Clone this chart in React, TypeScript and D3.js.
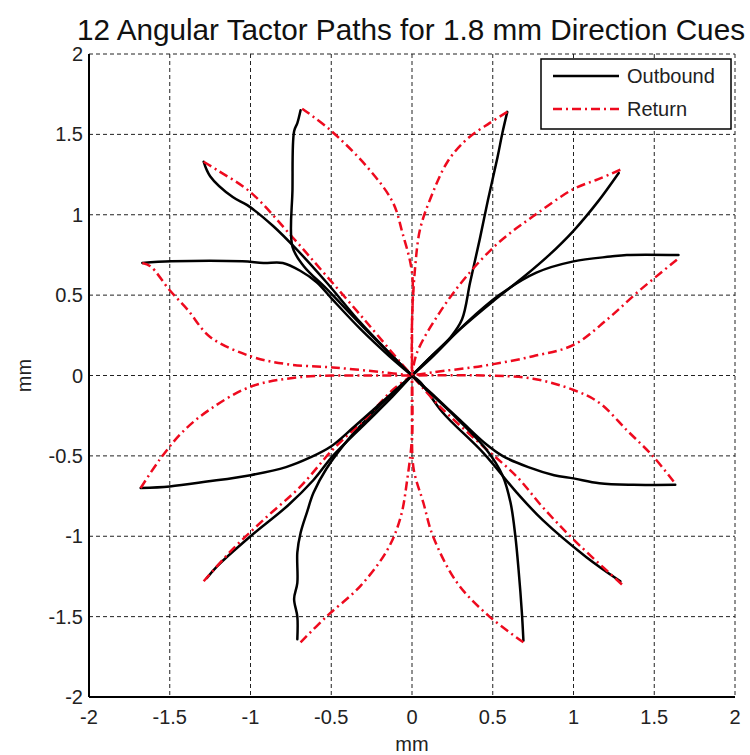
import React from "react";
import * as d3 from "d3";

type Pt = [number, number];

const title = "12 Angular Tactor Paths for 1.8 mm Direction Cues";
const xTicks = [-2, -1.5, -1, -0.5, 0, 0.5, 1, 1.5, 2];
const yTicks = [-2, -1.5, -1, -0.5, 0, 0.5, 1, 1.5, 2];
const seriesNames = ["Outbound", "Return"];

// outbound paths: origin -> end point (mm)
const outboundPaths: Pt[][] = [
  [[0, 0], [0.1, 0.1], [0.24, 0.24], [0.31, 0.35], [0.36, 0.58], [0.42, 0.85], [0.47, 1.09], [0.53, 1.36], [0.56, 1.51], [0.59, 1.64]],
  [[0, 0], [0.12, 0.12], [0.3, 0.29], [0.5, 0.46], [0.7, 0.62], [0.85, 0.75], [1.0, 0.9], [1.15, 1.08], [1.28, 1.26]],
  [[0, 0], [0.12, 0.11], [0.34, 0.33], [0.54, 0.5], [0.77, 0.64], [1.0, 0.71], [1.23, 0.74], [1.33, 0.75], [1.65, 0.75]],
  [[0, 0], [0.13, -0.12], [0.3, -0.28], [0.45, -0.42], [0.56, -0.5], [0.72, -0.57], [0.88, -0.62], [1.0, -0.64], [1.16, -0.67], [1.37, -0.68], [1.63, -0.68]],
  [[0, 0], [0.05, -0.04], [0.19, -0.23], [0.44, -0.48], [0.65, -0.73], [0.81, -0.9], [1.08, -1.13], [1.29, -1.28]],
  [[0, 0], [0.05, -0.05], [0.24, -0.23], [0.46, -0.46], [0.56, -0.62], [0.61, -0.79], [0.64, -1.0], [0.66, -1.21], [0.68, -1.47], [0.69, -1.65]],
  [[0, 0], [-0.18, -0.17], [-0.38, -0.38], [-0.53, -0.58], [-0.61, -0.73], [-0.65, -0.85], [-0.69, -0.98], [-0.71, -1.1], [-0.71, -1.29], [-0.73, -1.39], [-0.71, -1.5], [-0.71, -1.64]],
  [[0, 0], [-0.12, -0.13], [-0.28, -0.29], [-0.49, -0.5], [-0.61, -0.65], [-0.77, -0.81], [-1.0, -1.0], [-1.21, -1.19], [-1.27, -1.26]],
  [[0, 0], [-0.18, -0.16], [-0.36, -0.32], [-0.5, -0.44], [-0.63, -0.51], [-0.78, -0.57], [-1.0, -0.62], [-1.27, -0.66], [-1.5, -0.69], [-1.68, -0.7]],
  [[0, 0], [-0.14, 0.12], [-0.32, 0.29], [-0.49, 0.47], [-0.59, 0.58], [-0.69, 0.65], [-0.8, 0.7], [-0.92, 0.7], [-1.05, 0.71], [-1.49, 0.71], [-1.67, 0.7]],
  [[0, 0], [-0.12, 0.12], [-0.32, 0.33], [-0.53, 0.58], [-0.71, 0.78], [-0.86, 0.93], [-1.02, 1.06], [-1.11, 1.11], [-1.25, 1.24], [-1.29, 1.33]],
  [[0, 0], [-0.3, 0.3], [-0.53, 0.54], [-0.67, 0.68], [-0.74, 0.8], [-0.74, 1.16], [-0.73, 1.52], [-0.71, 1.57], [-0.69, 1.65]],
];

// return paths: end point -> origin
const returnPaths: Pt[][] = [
  [[0.59, 1.64], [0.48, 1.57], [0.34, 1.47], [0.22, 1.33], [0.11, 1.09], [0.05, 0.91], [0.02, 0.68], [0, 0.33], [0, 0]],
  [[1.29, 1.28], [1.15, 1.22], [1.0, 1.16], [0.75, 0.99], [0.54, 0.83], [0.34, 0.62], [0.17, 0.39], [0.03, 0.14], [0, 0]],
  [[1.64, 0.72], [1.41, 0.53], [1.21, 0.35], [1.0, 0.19], [0.75, 0.12], [0.44, 0.06], [0.13, 0.02], [0, 0]],
  [[1.62, -0.66], [1.49, -0.5], [1.33, -0.34], [1.16, -0.17], [1.0, -0.09], [0.75, -0.02], [0.44, 0.0], [0, 0]],
  [[1.3, -1.3], [1.0, -1.02], [0.81, -0.82], [0.65, -0.63], [0.44, -0.44], [0.17, -0.19], [0, 0]],
  [[0.69, -1.66], [0.48, -1.5], [0.28, -1.29], [0.13, -1.0], [0.07, -0.79], [0.01, -0.58], [0, -0.3], [0, 0]],
  [[-0.69, -1.66], [-0.53, -1.5], [-0.32, -1.31], [-0.15, -1.08], [-0.07, -0.88], [-0.03, -0.65], [0, -0.38], [0, 0]],
  [[-1.29, -1.28], [-1.11, -1.08], [-0.9, -0.88], [-0.69, -0.69], [-0.49, -0.46], [-0.28, -0.26], [-0.12, -0.09], [0, 0]],
  [[-1.68, -0.7], [-1.56, -0.52], [-1.42, -0.35], [-1.25, -0.21], [-1.0, -0.07], [-0.69, -0.01], [-0.28, 0.0], [0, 0]],
  [[-1.67, 0.7], [-1.62, 0.68], [-1.5, 0.53], [-1.39, 0.41], [-1.25, 0.24], [-1.0, 0.12], [-0.77, 0.07], [-0.49, 0.05], [-0.18, 0.02], [0, 0]],
  [[-1.29, 1.33], [-1.21, 1.28], [-1.0, 1.14], [-0.74, 0.86], [-0.53, 0.62], [-0.28, 0.33], [-0.07, 0.08], [0, 0]],
  [[-0.68, 1.66], [-0.51, 1.53], [-0.28, 1.3], [-0.12, 1.08], [-0.06, 0.89], [0, 0.64], [0, 0.3], [0, 0]],
];

const W = 750;
const H = 755;
const left = 89, right = 735, top = 54, bottom = 697;
const font = "Arial, 'Liberation Sans', Helvetica, sans-serif";
const red = "#ee0a1e";

export default function App() {
  const x = d3.scaleLinear().domain([-2, 2]).range([left, right]);
  const y = d3.scaleLinear().domain([-2, 2]).range([bottom, top]);
  const line = d3
    .line<Pt>()
    .x((d) => x(d[0]))
    .y((d) => y(d[1]))
    .curve(d3.curveCatmullRom.alpha(0.5));

  const fmt = (v: number) => String(v);

  return (
    <svg width={W} height={H} style={{ position: "absolute", left: 0, top: 0, background: "#fff" }} fontFamily={font}>
      <rect x={0} y={0} width={W} height={H} fill="#fff" />
      <text x={411} y={40} fontSize={29} textAnchor="middle" fill="#111" textLength={668} lengthAdjust="spacingAndGlyphs">{title}</text>

      {/* grid */}
      <g stroke="#222" strokeWidth={1} strokeDasharray="4,3">
        {xTicks.filter((t) => t > -2).map((t) => (
          <line key={"gx" + t} x1={x(t)} x2={x(t)} y1={top} y2={bottom} />
        ))}
        {yTicks.filter((t) => t > -2).map((t) => (
          <line key={"gy" + t} y1={y(t)} y2={y(t)} x1={left} x2={right} />
        ))}
      </g>

      {/* paths */}
      <g fill="none" strokeLinejoin="round" strokeLinecap="round">
        {outboundPaths.map((p, i) => (
          <g key={"p" + i}>
            <path d={line(p) || ""} stroke="#000" strokeWidth={2.5} />
            <path d={line(returnPaths[i]) || ""} stroke={red} strokeWidth={2.5} strokeDasharray="9,4,2,4" strokeLinecap="butt" />
          </g>
        ))}
      </g>

      {/* axes */}
      <g stroke="#000" strokeWidth={2}>
        <line x1={left} x2={left} y1={top} y2={bottom} />
        <line x1={left} x2={right} y1={bottom} y2={bottom} />
      </g>
      <g fontSize={20} fill="#222">
        {xTicks.map((t) => (
          <text key={"xt" + t} x={x(t)} y={724} textAnchor="middle">{fmt(t)}</text>
        ))}
        {yTicks.map((t) => (
          <text key={"yt" + t} x={left - 6} y={y(t) + 7} textAnchor="end">{fmt(t)}</text>
        ))}
        <text x={412} y={751} textAnchor="middle">mm</text>
        <text transform={`translate(31,${y(0)}) rotate(-90)`} textAnchor="middle">mm</text>
      </g>

      {/* legend */}
      <g>
        <rect x={541} y={59} width={190} height={70} fill="#fff" stroke="#000" strokeWidth={1.5} />
        <line x1={553} x2={619} y1={76} y2={76} stroke="#000" strokeWidth={2.5} />
        <line x1={553} x2={619} y1={109} y2={109} stroke={red} strokeWidth={2.5} strokeDasharray="9,4,2,4" />
        <text x={627} y={83} fontSize={20} fill="#222">{seriesNames[0]}</text>
        <text x={627} y={116} fontSize={20} fill="#222">{seriesNames[1]}</text>
      </g>
    </svg>
  );
}
